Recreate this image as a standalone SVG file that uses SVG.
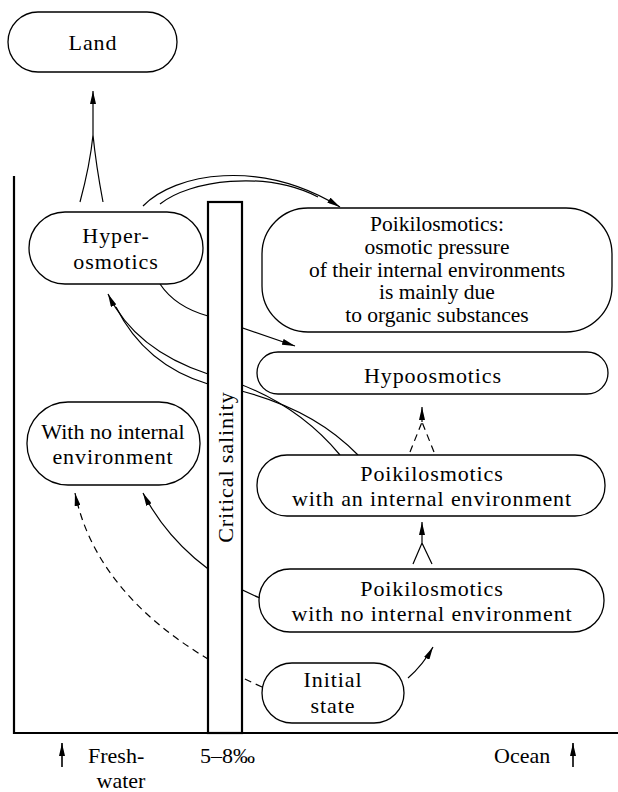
<svg xmlns="http://www.w3.org/2000/svg" width="618" height="792" viewBox="0 0 618 792" font-family="'Liberation Serif', 'Times New Roman', 'DejaVu Serif', serif">
<style>
.node rect{fill:#fff;stroke:#000;stroke-width:1.3}
text{font-family:'Liberation Serif','Times New Roman','DejaVu Serif',serif;font-size:22px;fill:#000;text-anchor:middle}
.sp{letter-spacing:0.9px}
.sm{font-size:21.5px}
.c path{fill:none;stroke:#000;stroke-width:1.2}
.c .d{stroke-dasharray:7 5}
.axis{fill:none;stroke:#000;stroke-width:2.2}
</style>
<defs>
<marker id="ah" markerUnits="userSpaceOnUse" viewBox="0 0 13 6" refX="13" refY="3" markerWidth="13" markerHeight="6" orient="auto">
<path d="M0,0 L13,3 L0,6 z" fill="#000"/>
</marker>
</defs>
<rect width="618" height="792" fill="#fff"/>
<g id="axes">
<path class="axis" d="M14,176 V733 H618"/>
</g>
<g class="c" id="connectors">
<path d="M80,202 Q90,165 93,135 M103,202 Q96,165 93,135 L93,91" marker-end="url(#ah)"/>
<path d="M143,206 C175,173 260,158 340,207" marker-end="url(#ah)"/>
<path d="M160,204 C190,180 265,170 318,197"/>
<path d="M160,284 C172,302 190,311 208,316 L295,346" marker-end="url(#ah)"/>
<path d="M340,455 Q290,395 208,374 Q135,350 108,294" marker-end="url(#ah)"/>
<path d="M358,455 Q305,400 208,384 Q145,365 116,307"/>
<path d="M260,598 C215,580 170,545 143,493" marker-end="url(#ah)"/>
<path class="d" d="M262,687 C180,650 95,590 75,493" marker-end="url(#ah)"/>
<path d="M408,678 Q423,665 433,647" marker-end="url(#ah)"/>
<path d="M413,564 L422,543 M432,564 L422,543 L422,522" marker-end="url(#ah)"/>
<path class="d" d="M410,452 L422,422 M434,452 L422,422" />
<path d="M422,422 L422,407" marker-end="url(#ah)"/>
</g>
<g id="critical-salinity">
<rect x="208" y="202" width="34" height="531" fill="#fff" stroke="#000" stroke-width="2.2"/>
<text transform="translate(233,467) rotate(-90)" class="sp">Critical salinity</text>
</g>
<g class="node" id="land">
<rect x="8" y="12" width="169" height="60" rx="30"/>
<text x="93" y="50" class="sp">Land</text>
</g>
<g class="node" id="hyperosmotics">
<rect x="29" y="212" width="174" height="72" rx="36"/>
<text x="116" y="243" class="sp">Hyper-</text>
<text x="116" y="269" class="sp">osmotics</text>
</g>
<g class="node" id="poikilosmotics-organic">
<rect x="262" y="208" width="350" height="124" rx="46"/>
<text x="437" y="231" class="sm">Poikilosmotics:</text>
<text x="437" y="254" class="sm">osmotic pressure</text>
<text x="437" y="277" class="sm">of their internal environments</text>
<text x="437" y="299" class="sm">is mainly due</text>
<text x="437" y="322" class="sm">to organic substances</text>
</g>
<g class="node" id="hypoosmotics">
<rect x="257" y="352" width="351" height="42" rx="21"/>
<text x="433" y="383" class="sp">Hypoosmotics</text>
</g>
<g class="node" id="poikilosmotics-with">
<rect x="257" y="455" width="348" height="61" rx="30"/>
<text x="432" y="481" class="sp">Poikilosmotics</text>
<text x="432" y="506" class="sp">with an internal environment</text>
</g>
<g class="node" id="poikilosmotics-no">
<rect x="259" y="569" width="345" height="63" rx="31"/>
<text x="432" y="596" class="sp">Poikilosmotics</text>
<text x="432" y="621" class="sp">with no internal environment</text>
</g>
<g class="node" id="initial-state">
<rect x="262" y="663" width="142" height="60" rx="30"/>
<text x="333" y="687" class="sp">Initial</text>
<text x="333" y="713" class="sp">state</text>
</g>
<g class="node" id="no-internal">
<rect x="27" y="402" width="173" height="83" rx="41"/>
<text x="113" y="439">With no internal</text>
<text x="113" y="464" class="sp">environment</text>
</g>
<g id="bottom-labels">
<path d="M62,767 V743" stroke="#000" stroke-width="1.6" marker-end="url(#ah)"/>
<text x="88" y="763" style="text-anchor:start">Fresh-</text>
<text x="121" y="788">water</text>
<text x="200" y="763" style="text-anchor:start">5–8‰</text>
<text x="494" y="763" style="text-anchor:start">Ocean</text>
<path d="M573,767 V743" stroke="#000" stroke-width="1.6" marker-end="url(#ah)"/>
</g>
</svg>
